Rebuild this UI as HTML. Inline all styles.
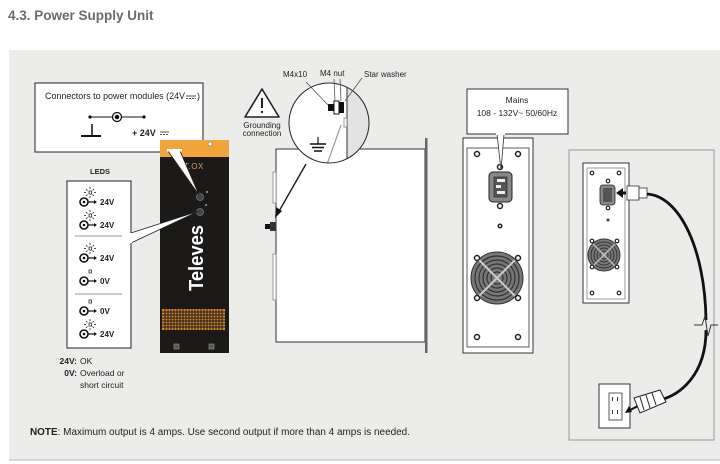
<!DOCTYPE html>
<html><head><meta charset="utf-8"><style>
html,body{margin:0;padding:0;background:#fff;}
body{width:720px;height:464px;overflow:hidden;font-family:"Liberation Sans",sans-serif;}
svg{display:block}
</style></head><body>
<svg width="720" height="464" viewBox="0 0 720 464" xmlns="http://www.w3.org/2000/svg" font-family="Liberation Sans, sans-serif">
<rect width="720" height="464" fill="#fff"/>
<text x="8" y="20" font-size="13.5" font-weight="bold" fill="#6a6a6a">4.3. Power Supply Unit</text>
<rect x="9" y="50" width="711" height="411" fill="#ececeb"/>
<rect x="9" y="459" width="711" height="2" fill="#d6d6d6"/>

<!-- Connector box -->
<rect x="35" y="83" width="168" height="69" fill="#fff" stroke="#222" stroke-width="1"/>
<text x="45" y="99" font-size="9" fill="#222" textLength="140" lengthAdjust="spacingAndGlyphs">Connectors to power modules (24V</text>
<line x1="186" y1="96" x2="196" y2="96" stroke="#222" stroke-width="0.8"/>
<line x1="186" y1="98.5" x2="196" y2="98.5" stroke="#222" stroke-width="0.8" stroke-dasharray="2,1"/>
<text x="197" y="99" font-size="9" fill="#222">)</text>
<line x1="90" y1="117" x2="144" y2="117" stroke="#111" stroke-width="1"/>
<circle cx="90" cy="117" r="1.6" fill="#111"/><circle cx="144" cy="117" r="1.6" fill="#111"/>
<circle cx="117" cy="117" r="4.5" fill="#fff" stroke="#111" stroke-width="1.3"/><circle cx="117" cy="117" r="2.3" fill="#111"/>
<line x1="92" y1="124" x2="92" y2="136" stroke="#111" stroke-width="1.5"/>
<line x1="81" y1="136" x2="101" y2="136" stroke="#111" stroke-width="2"/>
<text x="132" y="136" font-size="9" font-weight="bold" fill="#222">+ 24V</text>
<line x1="160" y1="132" x2="169" y2="132" stroke="#222" stroke-width="0.8"/>
<line x1="160" y1="134.5" x2="169" y2="134.5" stroke="#222" stroke-width="0.8" stroke-dasharray="2,1"/>

<!-- Device front -->
<rect x="160" y="140" width="69" height="213" fill="#1b1a18"/>
<rect x="160" y="140" width="69" height="17" fill="#f0a43a"/>
<circle cx="210" cy="144" r="2" fill="#fff" stroke="#666" stroke-width="0.6"/>
<text x="184" y="169" font-size="8" fill="#c9a06a" letter-spacing="0.5">T.OX</text>
<circle cx="200" cy="197" r="3.5" fill="#444" stroke="#777" stroke-width="0.8"/>
<circle cx="200" cy="212" r="3.5" fill="#444" stroke="#777" stroke-width="0.8"/>
<circle cx="207" cy="192" r="0.9" fill="#ccc"/><circle cx="206" cy="205" r="0.9" fill="#ccc"/>
<text transform="translate(203,291) rotate(-90)" font-size="20" font-weight="bold" fill="#fff" textLength="66" lengthAdjust="spacingAndGlyphs">Televes</text>
<rect x="162" y="309" width="63" height="21" fill="#d98a2a"/>
<g stroke="#1b1a18" stroke-width="1">
<path d="M162 312H225M162 315H225M162 318H225M162 321H225M162 324H225M162 327H225"/>
<path d="M165 309V330M168 309V330M171 309V330M174 309V330M177 309V330M180 309V330M183 309V330M186 309V330M189 309V330M192 309V330M195 309V330M198 309V330M201 309V330M204 309V330M207 309V330M210 309V330M213 309V330M216 309V330M219 309V330M222 309V330"/>
</g>
<rect x="174" y="344" width="5" height="5" fill="#555" stroke="#999" stroke-width="0.6"/>
<rect x="209" y="344" width="5" height="5" fill="#555" stroke="#999" stroke-width="0.6"/>

<!-- callout wedges -->
<path d="M168 151 L199 195 L180 151 Z" fill="#fff" stroke="#222" stroke-width="0.8"/>
<rect x="167" y="149" width="15" height="2.5" fill="#fff"/>
<path d="M131 233 L199 211 L131 243 Z" fill="#fff" stroke="#222" stroke-width="0.8"/>

<!-- LEDS -->
<text x="90" y="174" font-size="7.5" font-weight="bold" fill="#222">LEDS</text>
<rect x="67" y="181" width="64" height="167" fill="#fff" stroke="#222" stroke-width="1"/>
<rect x="130" y="233" width="2" height="10" fill="#fff"/>
<line x1="75" y1="236" x2="122" y2="236" stroke="#999" stroke-width="1"/>
<line x1="75" y1="294" x2="122" y2="294" stroke="#999" stroke-width="1"/>
<g font-size="8" font-weight="bold" fill="#222">
<g transform="translate(0,202)"><circle cx="84" cy="0" r="4" fill="none" stroke="#111" stroke-width="1.6"/><circle cx="84" cy="0" r="1.3" fill="#111"/><path d="M88 0H95" stroke="#111" stroke-width="1.2"/><path d="M94 -2L97 0L94 2Z" fill="#111"/><text x="100" y="3">24V</text><rect x="89" y="-11" width="2.5" height="3" fill="none" stroke="#111" stroke-width="0.7"/><path d="M90 -15V-13M90 -6V-4M84 -9.5H86M94 -9.5H96M86 -13L87.5 -11.5M94 -13L92.5 -11.5M86 -6L87.5 -7.5M94 -6L92.5 -7.5" stroke="#111" stroke-width="0.7"/></g>
<g transform="translate(0,225)"><circle cx="84" cy="0" r="4" fill="none" stroke="#111" stroke-width="1.6"/><circle cx="84" cy="0" r="1.3" fill="#111"/><path d="M88 0H95" stroke="#111" stroke-width="1.2"/><path d="M94 -2L97 0L94 2Z" fill="#111"/><text x="100" y="3">24V</text><rect x="89" y="-11" width="2.5" height="3" fill="none" stroke="#111" stroke-width="0.7"/><path d="M90 -15V-13M90 -6V-4M84 -9.5H86M94 -9.5H96M86 -13L87.5 -11.5M94 -13L92.5 -11.5M86 -6L87.5 -7.5M94 -6L92.5 -7.5" stroke="#111" stroke-width="0.7"/></g>
<g transform="translate(0,258)"><circle cx="84" cy="0" r="4" fill="none" stroke="#111" stroke-width="1.6"/><circle cx="84" cy="0" r="1.3" fill="#111"/><path d="M88 0H95" stroke="#111" stroke-width="1.2"/><path d="M94 -2L97 0L94 2Z" fill="#111"/><text x="100" y="3">24V</text><rect x="89" y="-11" width="2.5" height="3" fill="none" stroke="#111" stroke-width="0.7"/><path d="M90 -15V-13M90 -6V-4M84 -9.5H86M94 -9.5H96M86 -13L87.5 -11.5M94 -13L92.5 -11.5M86 -6L87.5 -7.5M94 -6L92.5 -7.5" stroke="#111" stroke-width="0.7"/></g>
<g transform="translate(0,281)"><circle cx="84" cy="0" r="4" fill="none" stroke="#111" stroke-width="1.6"/><circle cx="84" cy="0" r="1.3" fill="#111"/><path d="M88 0H95" stroke="#111" stroke-width="1.2"/><path d="M94 -2L97 0L94 2Z" fill="#111"/><text x="100" y="3">0V</text><rect x="89" y="-11" width="2.5" height="3" fill="none" stroke="#111" stroke-width="0.7"/></g>
<g transform="translate(0,311)"><circle cx="84" cy="0" r="4" fill="none" stroke="#111" stroke-width="1.6"/><circle cx="84" cy="0" r="1.3" fill="#111"/><path d="M88 0H95" stroke="#111" stroke-width="1.2"/><path d="M94 -2L97 0L94 2Z" fill="#111"/><text x="100" y="3">0V</text><rect x="89" y="-11" width="2.5" height="3" fill="none" stroke="#111" stroke-width="0.7"/></g>
<g transform="translate(0,334)"><circle cx="84" cy="0" r="4" fill="none" stroke="#111" stroke-width="1.6"/><circle cx="84" cy="0" r="1.3" fill="#111"/><path d="M88 0H95" stroke="#111" stroke-width="1.2"/><path d="M94 -2L97 0L94 2Z" fill="#111"/><text x="100" y="3">24V</text><rect x="89" y="-11" width="2.5" height="3" fill="none" stroke="#111" stroke-width="0.7"/><path d="M90 -15V-13M90 -6V-4M84 -9.5H86M94 -9.5H96M86 -13L87.5 -11.5M94 -13L92.5 -11.5M86 -6L87.5 -7.5M94 -6L92.5 -7.5" stroke="#111" stroke-width="0.7"/></g>
</g>
<g font-size="8.5" fill="#222">
<text x="77" y="364" text-anchor="end" font-weight="bold">24V:</text><text x="80" y="364">OK</text>
<text x="77" y="376" text-anchor="end" font-weight="bold">0V:</text><text x="80" y="376">Overload or</text>
<text x="80" y="388">short circuit</text>
</g>

<!-- Side view -->
<rect x="276" y="149" width="149" height="193" fill="#fff" stroke="#333" stroke-width="1"/>
<rect x="425" y="138" width="2.5" height="215" fill="#666"/>
<rect x="273" y="172" width="3" height="31" fill="#fff" stroke="#777" stroke-width="0.7"/>
<rect x="273" y="254" width="3" height="46" fill="#fff" stroke="#777" stroke-width="0.7"/>
<rect x="265" y="224" width="6" height="5" fill="#111"/>
<rect x="270" y="222" width="6" height="9" fill="#333"/>
<line x1="306" y1="164" x2="278" y2="213" stroke="#111" stroke-width="1.3"/>
<path d="M275 218 L276 207 L282 211 Z" fill="#111"/>

<!-- magnifier -->
<circle cx="329" cy="123" r="40" fill="#fff"/>
<clipPath id="cc"><circle cx="329" cy="123" r="40"/></clipPath>
<g clip-path="url(#cc)">
<rect x="347" y="80" width="40" height="90" fill="#e3e3e3"/>
<line x1="347" y1="80" x2="347" y2="170" stroke="#333" stroke-width="1"/>
<line x1="341" y1="125" x2="325" y2="170" stroke="#999" stroke-width="1.2"/>
<rect x="344" y="118" width="3" height="9" fill="#fff" stroke="#555" stroke-width="0.6"/>
</g>
<circle cx="329" cy="123" r="40" fill="none" stroke="#222" stroke-width="1"/>
<rect x="328" y="104" width="6" height="7" fill="#111"/>
<rect x="334" y="101" width="5" height="13" fill="#fff" stroke="#111" stroke-width="1"/>
<rect x="339" y="102" width="5" height="11" fill="#111"/>
<line x1="318" y1="137" x2="318" y2="144" stroke="#111" stroke-width="1.2"/>
<line x1="310" y1="144" x2="326" y2="144" stroke="#111" stroke-width="1.5"/>
<line x1="312" y1="147.5" x2="324" y2="147.5" stroke="#111" stroke-width="1.5"/>
<line x1="314" y1="151" x2="322" y2="151" stroke="#111" stroke-width="1.5"/>
<g font-size="8" fill="#222">
<text x="283" y="77">M4x10</text>
<text x="320" y="76">M4 nut</text>
<text x="364" y="77">Star washer</text>
</g>
<line x1="306" y1="82" x2="328" y2="105" stroke="#555" stroke-width="0.8"/>
<line x1="334" y1="79" x2="335" y2="101" stroke="#555" stroke-width="0.8"/>
<line x1="340" y1="79" x2="341" y2="101" stroke="#555" stroke-width="0.8"/>
<line x1="362" y1="78" x2="345" y2="101" stroke="#555" stroke-width="0.8"/>
<!-- warning -->
<path d="M262 89 L279 117 L245 117 Z" fill="#fff" stroke="#222" stroke-width="1.6" stroke-linejoin="round"/>
<line x1="262" y1="98" x2="262" y2="108" stroke="#222" stroke-width="2"/>
<circle cx="262" cy="112" r="1.2" fill="#222"/>
<text x="262" y="128" font-size="8" text-anchor="middle" fill="#222">Grounding</text>
<text x="262" y="136" font-size="8" text-anchor="middle" fill="#222">connection</text>

<!-- Rear panel -->
<rect x="463" y="138" width="70" height="215" fill="#fff" stroke="#333" stroke-width="1"/>
<rect x="467" y="148" width="62" height="199" fill="#fff" stroke="#333" stroke-width="0.8"/>
<g fill="#fff" stroke="#222" stroke-width="1.5">
<circle cx="477" cy="154" r="2.5"/><circle cx="518" cy="154" r="2.5"/>
<circle cx="477" cy="337" r="2.5"/><circle cx="518" cy="337" r="2.5"/>
<circle cx="500" cy="167" r="2.5"/><circle cx="500" cy="206" r="2.5"/>
<circle cx="500" cy="226" r="1.8"/>
</g>
<rect x="489" y="172" width="23" height="30" rx="4" fill="#888" stroke="#222" stroke-width="1"/>
<rect x="494" y="177" width="13" height="20" fill="#555" stroke="#222" stroke-width="0.6"/>
<rect x="497" y="179" width="8" height="3" fill="#eee"/><rect x="496" y="185" width="5" height="3" fill="#eee"/><rect x="497" y="191" width="8" height="3" fill="#eee"/>
<g fill="none" stroke="#333" stroke-width="1.2">
<circle cx="497" cy="278" r="26" fill="#777" stroke-width="1"/>
<circle cx="497" cy="278" r="22"/>
<circle cx="497" cy="278" r="18"/>
<circle cx="497" cy="278" r="14"/>
<circle cx="497" cy="278" r="10"/>
<circle cx="497" cy="278" r="6"/>
<path d="M479 260L515 296M515 260L479 296" stroke="#ccc" stroke-width="2"/>
</g>
<g fill="#fff" stroke="#222" stroke-width="1.5">
<circle cx="477" cy="258" r="2.5"/><circle cx="518" cy="258" r="2.5"/>
<circle cx="477" cy="298" r="2.5"/><circle cx="518" cy="298" r="2.5"/>
</g>
<path d="M497 134 L501 170 L504 134 Z" fill="#fff" stroke="#333" stroke-width="0.8"/>
<rect x="467" y="89" width="101" height="45" fill="#fff" stroke="#333" stroke-width="1"/>
<rect x="496" y="133" width="9" height="2" fill="#fff"/>
<text x="517" y="103" font-size="8.5" text-anchor="middle" fill="#222">Mains</text>
<text x="517" y="116" font-size="8.5" text-anchor="middle" fill="#222">108 - 132V~   50/60Hz</text>

<!-- Right box -->
<rect x="569" y="150" width="145" height="290" fill="#ececeb" stroke="#999" stroke-width="1"/>
<rect x="583" y="163" width="46" height="140" fill="#fff" stroke="#333" stroke-width="1"/>
<rect x="587" y="168" width="38" height="131" fill="#fff" stroke="#555" stroke-width="0.6"/>
<g fill="#fff" stroke="#222" stroke-width="1.2">
<circle cx="592" cy="173" r="1.8"/><circle cx="619" cy="173" r="1.8"/>
<circle cx="592" cy="293" r="1.8"/><circle cx="619" cy="293" r="1.8"/>
<circle cx="608" cy="181" r="1.8"/><circle cx="608" cy="208" r="1.8"/>
</g>
<circle cx="608" cy="220" r="1.5" fill="#444"/>
<rect x="600" y="185" width="15" height="20" rx="3" fill="#888" stroke="#222" stroke-width="0.8"/>
<rect x="603" y="188" width="9" height="14" fill="#555"/>
<circle cx="604" cy="255" r="16" fill="#777" stroke="#333"/>
<g fill="none" stroke="#333" stroke-width="1"><circle cx="604" cy="255" r="13"/><circle cx="604" cy="255" r="10"/><circle cx="604" cy="255" r="7"/><circle cx="604" cy="255" r="4"/></g>
<path d="M593 244L615 266M615 244L593 266" stroke="#bbb" stroke-width="1.5"/>
<g fill="#fff" stroke="#222" stroke-width="1.2">
<circle cx="592" cy="241" r="1.8"/><circle cx="617" cy="241" r="1.8"/>
<circle cx="592" cy="267" r="1.8"/><circle cx="617" cy="267" r="1.8"/>
</g>
<path d="M626 193 L619 193" stroke="#111" stroke-width="3"/>
<path d="M616 193 L623 188 L623 198 Z" fill="#111"/>
<rect x="627" y="186" width="12" height="14" fill="#fff" stroke="#333" stroke-width="0.8"/>
<rect x="639" y="188" width="8" height="10" fill="#fff" stroke="#333" stroke-width="0.8"/>
<path d="M647 194 C680 196 705 250 706 320" fill="none" stroke="#111" stroke-width="2.8"/>
<path d="M706 330 C706 375 680 395 660 400" fill="none" stroke="#111" stroke-width="2.8"/>
<path d="M694 325 H702 L705 316 L708 336 L711 325 H718" fill="none" stroke="#333" stroke-width="1"/>
<rect x="599" y="384" width="31" height="44" fill="#fff" stroke="#333" stroke-width="1"/>
<rect x="609" y="393" width="13" height="27" fill="#fff" stroke="#333" stroke-width="0.8"/>
<g fill="#333"><rect x="612" y="397" width="1" height="4"/><rect x="617" y="397" width="1" height="4"/><rect x="612" y="410" width="1" height="4"/><rect x="617" y="410" width="1" height="4"/></g>
<path d="M642 404 L628 411" stroke="#111" stroke-width="2"/>
<path d="M625 413 L629 406 L632 412 Z" fill="#111"/>
<path d="M634 398 L660 390 L666 402 L640 413 Z" fill="#fff" stroke="#222" stroke-width="1"/>
<path d="M640 397 L644 410 M646 395 L650 408 M652 393 L656 405" stroke="#222" stroke-width="1"/>

<text x="30" y="435" font-size="9.8" fill="#222" textLength="380" lengthAdjust="spacingAndGlyphs"><tspan font-weight="bold">NOTE</tspan>:  Maximum output is 4 amps. Use second output if more than 4 amps is needed.</text>
</svg>
</body></html>
